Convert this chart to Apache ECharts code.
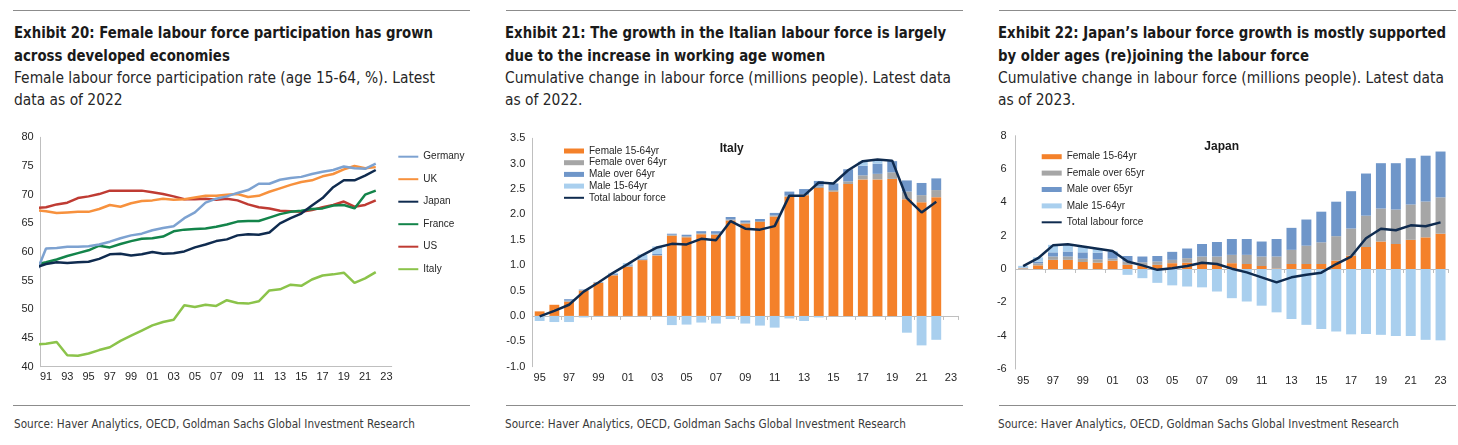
<!DOCTYPE html>
<html><head><meta charset="utf-8">
<script src="https://cdn.jsdelivr.net/npm/echarts@6/dist/echarts.min.js"></script>
<style>
body{margin:0;background:#fff;width:1458px;height:445px;overflow:hidden;position:relative;font-family:"Liberation Sans Narrow","Arial Narrow","DejaVu Sans Condensed","Liberation Sans",sans-serif;}
.rule{position:absolute;height:0;border-top:1.5px solid #8c8c8c;}
.t{position:absolute;white-space:nowrap;transform-origin:0 50%;line-height:22px;}
.b{font-weight:bold;font-size:16.5px;color:#1a1a1a;}
.r{font-size:16px;color:#262626;}
.s{font-size:12.5px;color:#3a3a3a;line-height:16px;}
.chart{position:absolute;top:120px;height:285px;}
</style></head>
<body>
<div class="rule" style="left:13px;top:10px;width:457px"></div>
<div class="rule" style="left:506px;top:10px;width:457px"></div>
<div class="rule" style="left:999px;top:10px;width:457px"></div>
<div class="t b" style="left:14px;top:22px">Exhibit 20: Female labour force participation has grown</div>
<div class="t b" style="left:14px;top:45px">across developed economies</div>
<div class="t r" style="left:14px;top:67px">Female labour force participation rate (age 15-64, %). Latest</div>
<div class="t r" style="left:14px;top:89px">data as of 2022</div>
<div class="t b" style="left:505px;top:22px">Exhibit 21: The growth in the Italian labour force is largely</div>
<div class="t b" style="left:505px;top:45px">due to the increase in working age women</div>
<div class="t r" style="left:505px;top:67px">Cumulative change in labour force (millions people). Latest data</div>
<div class="t r" style="left:505px;top:89px">as of 2022.</div>
<div class="t b" style="left:998px;top:22px">Exhibit 22: Japan’s labour force growth is mostly supported</div>
<div class="t b" style="left:998px;top:45px">by older ages (re)joining the labour force</div>
<div class="t r" style="left:998px;top:67px">Cumulative change in labour force (millions people). Latest data</div>
<div class="t r" style="left:998px;top:89px">as of 2023.</div>
<div class="rule" style="left:13px;top:405px;width:457px"></div>
<div class="rule" style="left:506px;top:405px;width:457px"></div>
<div class="rule" style="left:999px;top:405px;width:457px"></div>
<div class="t s" style="left:14px;top:416px">Source: Haver Analytics, OECD, Goldman Sachs Global Investment Research</div>
<div class="t s" style="left:505px;top:416px">Source: Haver Analytics, OECD, Goldman Sachs Global Investment Research</div>
<div class="t s" style="left:998px;top:416px">Source: Haver Analytics, OECD, Goldman Sachs Global Investment Research</div>
<div id="c1" class="chart" style="left:0;width:490px"></div>
<div id="c2" class="chart" style="left:490px;width:485px"></div>
<div id="c3" class="chart" style="left:975px;width:483px"></div>
<script>
// ---------- Exhibit 20 data (1990..2022) ----------
const years1 = [1990,1991,1992,1993,1994,1995,1996,1997,1998,1999,2000,2001,2002,2003,2004,2005,2006,2007,2008,2009,2010,2011,2012,2013,2014,2015,2016,2017,2018,2019,2020,2021,2022];
const germany = [56.0,60.6,60.7,60.9,60.9,61.0,61.3,61.8,62.4,62.9,63.2,63.8,64.2,64.5,65.9,66.9,68.6,69.3,69.7,70.3,70.8,71.9,71.9,72.6,72.9,73.1,73.6,74.0,74.3,74.9,74.6,74.5,75.4];
const uk      = [67.3,67.1,66.8,66.9,67.0,67.0,67.5,68.2,67.9,68.5,68.9,69.0,69.3,69.1,69.2,69.5,69.8,69.8,70.0,70.1,69.6,69.8,70.5,71.1,71.7,72.2,72.5,73.2,73.6,74.4,75.0,74.6,74.8];
const japan   = [57.3,57.9,58.2,58.1,58.2,58.3,58.8,59.6,59.7,59.4,59.6,60.0,59.7,59.8,60.1,60.8,61.3,61.9,62.2,62.9,63.1,63.0,63.4,65.0,65.9,66.7,68.1,69.4,71.3,72.5,72.5,73.3,74.3];
const france  = [57.8,58.2,58.7,59.3,59.8,60.3,61.1,60.8,61.4,61.9,62.3,62.4,62.7,63.6,63.9,64.0,64.1,64.4,64.8,65.3,65.4,65.4,66.0,66.6,67.0,67.2,67.5,67.6,68.1,68.2,67.6,70.0,70.7];
const us      = [67.7,67.8,68.3,68.6,69.4,69.7,70.1,70.7,70.7,70.7,70.7,70.4,70.1,69.7,69.2,69.2,69.3,69.1,69.3,69.0,68.3,67.8,67.6,67.2,67.1,67.0,67.3,67.8,68.2,68.8,67.9,68.2,69.0];
const italy   = [43.9,44.0,44.3,42.0,41.9,42.3,42.9,43.4,44.5,45.4,46.3,47.2,47.8,48.2,50.7,50.4,50.8,50.6,51.6,51.1,51.0,51.4,53.3,53.5,54.3,54.1,55.2,55.9,56.1,56.4,54.6,55.4,56.5];
const tickYears1 = [1991,1993,1995,1997,1999,2001,2003,2005,2007,2009,2011,2013,2015,2017,2019,2021,2023];

// ---------- Exhibit 21 data (Italy, 1995..2023) ----------
const years2 = ['1995','1996','1997','1998','1999','2000','2001','2002','2003','2004','2005','2006','2007','2008','2009','2010','2011','2012','2013','2014','2015','2016','2017','2018','2019','2020','2021','2022','2023'];
const itFemale1564 = [0.09,0.22,0.28,0.5,0.65,0.8,0.97,1.1,1.19,1.58,1.55,1.61,1.6,1.88,1.82,1.85,1.96,2.35,2.38,2.52,2.45,2.6,2.69,2.69,2.7,2.3,2.24,2.34,null];
const itFemale64   = [0,0,0.02,0.01,0.01,0.01,0.01,0.01,0.01,0.02,0.02,0.02,0.02,0.02,0.02,0.02,0.02,0.02,0.02,0.03,0.03,0.05,0.08,0.11,0.13,0.15,0.14,0.14,null];
const itMale64     = [0,0,0.03,0.01,0.01,0.02,0.02,0.02,0.02,0.02,0.03,0.04,0.05,0.05,0.04,0.04,0.05,0.08,0.1,0.11,0.13,0.24,0.19,0.2,0.22,0.22,0.24,0.23,null];
const itMale1564   = [-0.1,-0.12,-0.12,-0.03,-0.01,0.02,0.04,0.08,0.15,-0.18,-0.17,-0.13,-0.15,-0.06,-0.15,-0.19,-0.23,-0.05,-0.1,-0.03,0,0,0.08,0.06,0,-0.33,-0.58,-0.47,null];
const itTotal      = [-0.01,0.1,0.22,0.48,0.66,0.85,1.02,1.2,1.35,1.42,1.41,1.52,1.49,1.87,1.72,1.7,1.77,2.37,2.37,2.63,2.61,2.87,3.05,3.08,3.06,2.32,2.04,2.25,null];

// ---------- Exhibit 22 data (Japan, 1995..2023) ----------
const years3 = years2;
const jpFemale1564 = [0.03,0.22,0.55,0.55,0.42,0.38,0.5,0.25,0.2,0.25,0.35,0.38,0.4,0.3,0.35,0.3,0.18,0.03,0.3,0.3,0.3,0.5,0.8,1.32,1.65,1.5,1.75,1.9,2.12];
const jpFemale65   = [0.03,0.12,0.2,0.2,0.2,0.2,0.12,0.2,0.2,0.2,0.2,0.27,0.35,0.45,0.5,0.55,0.57,0.72,0.85,1.1,1.3,1.47,1.63,1.88,1.98,2.07,2.12,2.15,2.18];
const jpMale65     = [0.03,0.1,0.25,0.3,0.38,0.4,0.4,0.33,0.35,0.33,0.48,0.58,0.75,0.87,0.95,0.95,0.9,1.05,1.32,1.57,1.84,2.07,2.24,2.53,2.72,2.78,2.78,2.75,2.75];
const jpMale1564   = [0.1,0.26,0.45,0.4,0.33,0.25,0.05,-0.35,-0.55,-0.83,-0.98,-1.05,-1.1,-1.35,-1.75,-1.95,-2.2,-2.6,-3.0,-3.35,-3.6,-3.75,-3.92,-3.9,-3.95,-4.02,-4.02,-4.25,-4.28];
const jpTotal      = [0.17,0.65,1.42,1.48,1.35,1.22,1.08,0.45,0.22,-0.05,0.05,0.18,0.38,0.3,0.02,-0.2,-0.5,-0.8,-0.5,-0.35,-0.22,0.3,0.75,1.85,2.42,2.33,2.62,2.57,2.8];

// ---------- styling ----------
const AX = '"Liberation Sans", Arial, sans-serif';
const axisCol = '#bfbfbf';
const labCol = '#262626';
const C = {germany:'#7DA2D1', uk:'#F7913D', japan:'#0F2B4F', france:'#13844A', us:'#BF3B33', italy:'#8BC34A',
           f1564:'#F4812A', f64:'#A6A6A6', m64:'#6F96C9', m1564:'#A9CFEE', total:'#0F2B4F'};
const noDot = {color:'rgba(0,0,0,0)', borderWidth:0, opacity:0};

function pairs(xs, ys){ return xs.map((x,i)=>[x, ys[i]]); }
function lineS(name, ys, color){
  return {name, type:'line', data:pairs(years1, ys), symbol:'none', clip:true,
          lineStyle:{width:2.5, color}, itemStyle:{color}, animation:false};
}

const c1 = echarts.init(document.getElementById('c1'), null, {renderer:'canvas'});
c1.setOption({
  animation:false,
  grid:{left:40.7, top:17.3, width:351, height:229.4},
  xAxis:{type:'value', min:1990.5, max:2023.5,
    axisLine:{show:true, onZero:false, lineStyle:{color:axisCol}},
    axisTick:{show:false}, splitLine:{show:false},
    axisLabel:{customValues:tickYears1, formatter:v=>String(Math.round(v)).slice(2), color:labCol, fontSize:11, fontFamily:AX, margin:5}},
  yAxis:{type:'value', min:40, max:80, interval:5,
    axisLine:{show:true, lineStyle:{color:axisCol}}, axisTick:{show:false}, splitLine:{show:false},
    axisLabel:{color:labCol, fontSize:11, fontFamily:AX, margin:7}},
  legend:{orient:'vertical', left:397.3, top:30.7, padding:0, itemWidth:20, itemHeight:3, itemGap:10.5, selectedMode:false,
    textStyle:{fontSize:10, lineHeight:12, color:labCol, fontFamily:AX},
    data:['Germany','UK','Japan','France','US','Italy'].map(n=>({name:n, itemStyle:noDot}))},
  series:[lineS('US',us,C.us), lineS('Italy',italy,C.italy), lineS('France',france,C.france),
          lineS('UK',uk,C.uk), lineS('Germany',germany,C.germany), lineS('Japan',japan,C.japan)]
});

function stackedOpt(cfg){
  const cats = cfg.years;
  const bar = (name, data, color) => ({name, type:'bar', stack:'s', data, barCategoryGap:'33%',
      itemStyle:{color}, xAxisIndex:0, animation:false});
  return {
    animation:false,
    grid:cfg.grid,
    xAxis:[
      {type:'category', data:cats, position:'bottom',
       axisLine:{show:false, onZero:false}, axisTick:{show:false},
       axisLabel:{interval:1, formatter:v=>v.slice(2), color:labCol, fontSize:11, fontFamily:AX, margin:cfg.labMargin}},
      {type:'category', data:cats, position:'bottom',
       axisLine:{show:true, onZero:true, lineStyle:{color:axisCol}},
       axisTick:{show:true, interval:1, length:4, lineStyle:{color:axisCol}},
       axisLabel:{show:false}}
    ],
    yAxis:{type:'value', min:cfg.min, max:cfg.max, interval:cfg.interval,
      axisLine:{show:true, lineStyle:{color:axisCol}}, axisTick:{show:false}, splitLine:{show:false},
      axisLabel:{color:labCol, fontSize:11, fontFamily:AX, margin:cfg.yMargin, formatter:cfg.yFmt}},
    legend:{orient:'vertical', left:cfg.legLeft, top:cfg.legTop, padding:0, itemWidth:20, itemHeight:5, itemGap:cfg.legGap, selectedMode:false,
      textStyle:{fontSize:10, lineHeight:12, color:labCol, fontFamily:AX},
      data:cfg.names.slice(0,4).map(n=>({name:n, icon:'rect'})).concat([{name:cfg.names[4], itemStyle:noDot}])},
    graphic:[{type:'text', x:cfg.title[1], y:cfg.title[2],
      style:{text:cfg.title[0], font:'bold 12px "Liberation Sans", Arial, sans-serif', fill:'#1a1a1a', align:'center', verticalAlign:'middle'}}],
    series:[
      bar(cfg.names[0], cfg.s[0], C.f1564),
      bar(cfg.names[1], cfg.s[1], C.f64),
      bar(cfg.names[2], cfg.s[2], C.m64),
      bar(cfg.names[3], cfg.s[3], C.m1564),
      {name:cfg.names[4], type:'line', data:cfg.s[4], symbol:'none', xAxisIndex:0, z:5,
       lineStyle:{width:2.5, color:C.total}, itemStyle:{color:C.total}, animation:false}
    ]
  };
}

const c2 = echarts.init(document.getElementById('c2'));
c2.setOption(stackedOpt({
  years:years2, grid:{left:42.3, top:18.3, width:426, height:228.4},
  min:-1, max:3.5, interval:0.5, yFmt:v=>v.toFixed(1), yMargin:7, labMargin:6,
  legLeft:73, legTop:25, legGap:-0.3,
  names:['Female 15-64yr','Female over 64yr','Male over 64yr','Male 15-64yr','Total labour force'],
  title:['Italy', 241.7, 28.3],
  s:[itFemale1564, itFemale64, itMale64, itMale1564, itTotal]
}));

const c3 = echarts.init(document.getElementById('c3'));
c3.setOption(stackedOpt({
  years:years3, grid:{left:40.7, top:15.7, width:432.3, height:233.3},
  min:-6, max:8, interval:2, yFmt:v=>String(v), yMargin:9, labMargin:6,
  legLeft:65.7, legTop:30.7, legGap:4.4,
  names:['Female 15-64yr','Female over 65yr','Male over 65yr','Male 15-64yr','Total labour force'],
  title:['Japan', 246.7, 27],
  s:[jpFemale1564, jpFemale65, jpMale65, jpMale1564, jpTotal]
}));

// fit header text widths to the reference widths
function fit(){
  const all = Array.from(document.querySelectorAll('.t'));
  all.forEach(e=>e.style.transform='none');
  const bRef = all.find(e=>e.classList.contains('b'));
  const rRef = all.find(e=>e.classList.contains('r'));
  const sRef = all.find(e=>e.classList.contains('s'));
  const sb = 419 / bRef.getBoundingClientRect().width;
  const sr = 421 / rRef.getBoundingClientRect().width;
  const ss = 401 / sRef.getBoundingClientRect().width;
  all.forEach(e=>{
    const s = e.classList.contains('b') ? sb : e.classList.contains('r') ? sr : ss;
    e.style.transform = 'scaleX(' + s.toFixed(4) + ')';
  });
}
fit();
if (document.fonts && document.fonts.ready) document.fonts.ready.then(fit);
</script>
</body></html>
